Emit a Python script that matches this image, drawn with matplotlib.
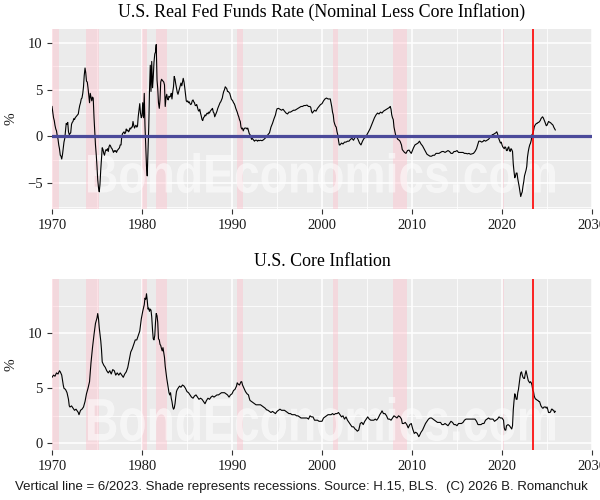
import numpy as np
import matplotlib
matplotlib.use("Agg")
import matplotlib.pyplot as plt
from matplotlib.ticker import MultipleLocator
from matplotlib.textpath import TextPath
from matplotlib.patches import PathPatch
from matplotlib.font_manager import FontProperties
from matplotlib.transforms import Affine2D

# ---------------- data ----------------
real_dates = [
1970.00,1970.08,1970.17,1970.25,1970.33,1970.42,1970.50,1970.58,1970.67,1970.75,1970.83,1970.92,
1971.00,1971.08,1971.17,1971.25,1971.33,1971.42,1971.50,1971.58,1971.67,1971.75,1971.83,1971.92,
1972.00,1972.08,1972.17,1972.25,1972.33,1972.42,1972.50,1972.58,1972.67,1972.75,1972.83,1972.92,
1973.00,1973.08,1973.17,1973.25,1973.33,1973.42,1973.50,1973.58,1973.67,1973.75,1973.83,1973.92,
1974.00,1974.08,1974.17,1974.25,1974.33,1974.42,1974.50,1974.58,1974.67,1974.75,1974.83,1974.92,
1975.00,1975.08,1975.17,1975.25,1975.33,1975.42,1975.50,1975.58,1975.67,1975.75,1975.83,1975.92,
1976.00,1976.08,1976.17,1976.25,1976.33,1976.42,1976.50,1976.58,1976.67,1976.75,1976.83,1976.92,
1977.00,1977.08,1977.17,1977.25,1977.33,1977.42,1977.50,1977.58,1977.67,1977.75,1977.83,1977.92,
1978.00,1978.08,1978.17,1978.25,1978.33,1978.42,1978.50,1978.58,1978.67,1978.75,1978.83,1978.92,
1979.00,1979.08,1979.17,1979.25,1979.33,1979.42,1979.50,1979.58,1979.67,1979.75,1979.83,1979.92,
1980.00,1980.08,1980.17,1980.25,1980.33,1980.42,1980.50,1980.58,1980.67,1980.75,1980.83,1980.92,
1981.00,1981.08,1981.17,1981.25,1981.33,1981.42,1981.50,1981.58,1981.67,1981.75,1981.83,1981.92,
1982.00,1982.08,1982.17,1982.25,1982.33,1982.42,1982.50,1982.58,1982.67,1982.75,1982.83,1982.92,
1983.00,1983.08,1983.17,1983.25,1983.33,1983.42,1983.50,1983.58,1983.67,1983.75,1983.83,1983.92,
1984.00,1984.08,1984.17,1984.25,1984.33,1984.42,1984.50,1984.58,1984.67,1984.75,1984.83,1984.92,
1985.00,1985.08,1985.17,1985.25,1985.33,1985.42,1985.50,1985.58,1985.67,1985.75,1985.83,1985.92,
1986.00,1986.08,1986.17,1986.25,1986.33,1986.42,1986.50,1986.58,1986.67,1986.75,1986.83,1986.92,
1987.00,1987.08,1987.17,1987.25,1987.33,1987.42,1987.50,1987.58,1987.67,1987.75,1987.83,1987.92,
1988.00,1988.08,1988.17,1988.25,1988.33,1988.42,1988.50,1988.58,1988.67,1988.75,1988.83,1988.92,
1989.00,1989.08,1989.17,1989.25,1989.33,1989.42,1989.50,1989.58,1989.67,1989.75,1989.83,1989.92,
1990.00,1990.08,1990.17,1990.25,1990.33,1990.42,1990.50,1990.58,1990.67,1990.75,1990.83,1990.92,
1991.00,1991.08,1991.17,1991.25,1991.33,1991.42,1991.50,1991.58,1991.67,1991.75,1991.83,1991.92,
1992.00,1992.08,1992.17,1992.25,1992.33,1992.42,1992.50,1992.58,1992.67,1992.75,1992.83,1992.92,
1993.00,1993.17,1993.33,1993.50,1993.67,1993.83,1993.92,
1994.00,1994.17,1994.33,1994.50,1994.67,1994.83,1994.92,
1995.00,1995.17,1995.33,1995.50,1995.67,1995.83,
1996.00,1996.17,1996.33,1996.50,1996.67,1996.83,
1997.00,1997.17,1997.33,1997.50,1997.67,1997.83,
1998.00,1998.17,1998.33,1998.50,1998.67,1998.75,1998.83,1998.92,
1999.00,1999.17,1999.33,1999.50,1999.67,1999.83,
2000.00,2000.17,2000.33,2000.50,2000.67,2000.83,2000.92,
2001.00,2001.08,2001.17,2001.25,2001.33,2001.42,2001.50,2001.58,2001.67,2001.75,2001.83,2001.92,
2002.00,2002.17,2002.33,2002.50,2002.67,2002.83,
2003.00,2003.17,2003.33,2003.50,2003.67,2003.83,
2004.00,2004.17,2004.33,2004.50,2004.67,2004.83,
2005.00,2005.17,2005.33,2005.50,2005.67,2005.83,
2006.00,2006.17,2006.33,2006.50,2006.67,2006.83,
2007.00,2007.17,2007.33,2007.50,2007.58,2007.67,2007.75,2007.83,2007.92,
2008.00,2008.08,2008.17,2008.25,2008.42,2008.58,2008.67,2008.83,2008.92,
2009.00,2009.17,2009.33,2009.50,2009.67,2009.83,2009.92,
2010.00,2010.17,2010.33,2010.50,2010.67,2010.83,
2011.00,2011.17,2011.33,2011.50,2011.67,2011.83,
2012.00,2012.17,2012.33,2012.50,2012.67,2012.83,
2013.00,2013.17,2013.33,2013.50,2013.67,2013.83,
2014.00,2014.17,2014.33,2014.50,2014.67,2014.83,
2015.00,2015.17,2015.33,2015.50,2015.67,2015.83,
2016.00,2016.17,2016.33,2016.50,2016.67,2016.83,
2017.00,2017.17,2017.33,2017.42,2017.58,2017.75,2017.92,
2018.00,2018.17,2018.33,2018.50,2018.67,2018.83,2018.92,
2019.00,2019.17,2019.33,2019.42,2019.50,2019.58,2019.67,2019.75,2019.83,2019.92,
2020.00,2020.08,2020.17,2020.25,2020.33,2020.42,2020.50,2020.58,2020.67,2020.75,2020.83,2020.92,
2021.00,2021.08,2021.17,2021.25,2021.33,2021.42,2021.50,2021.58,2021.67,2021.75,2021.83,2021.92,
2022.00,2022.08,2022.17,2022.25,2022.33,2022.42,2022.50,2022.58,2022.67,2022.75,2022.83,2022.92,
2023.00,2023.08,2023.17,2023.25,2023.33,2023.42,2023.50,2023.58,2023.67,2023.75,2023.83,2023.92,
2024.00,2024.08,2024.17,2024.25,2024.33,2024.42,2024.50,2024.58,2024.67,2024.75,2024.83,2024.92,
2025.00,2025.08,2025.17,2025.25,2025.33,2025.42,2025.50,2025.58,2025.67,2025.75,2025.83,2025.92]

real_values = [
3.2,2.6,2.0,1.7,1.2,0.8,0.6,0.1,-0.3,-0.9,-1.3,-2.0,
-2.1,-2.4,-1.9,-1.2,-0.6,-0.2,0.6,1.4,1.3,1.5,0.5,0.2,
0.3,0.4,1.3,1.5,1.6,1.9,1.8,2.0,2.1,2.2,2.3,2.4,
2.9,3.3,3.6,4.0,4.1,4.6,5.3,6.5,7.3,6.8,5.9,5.8,
5.2,4.4,3.6,4.6,4.2,3.8,4.2,4.1,2.0,0.6,-0.9,-2.0,
-3.2,-4.6,-5.5,-5.9,-5.1,-3.5,-2.4,-1.2,-1.4,-1.8,-2.0,-1.6,
-1.4,-1.5,-1.3,-1.6,-1.1,-0.9,-1.0,-1.2,-1.3,-1.5,-1.7,-1.5,
-1.6,-1.5,-1.7,-1.5,-1.4,-1.3,-1.2,-0.9,-0.9,0.0,0.3,0.4,
0.5,0.3,0.4,0.8,0.6,0.7,0.5,0.6,0.9,0.8,1.0,1.0,
1.6,1.2,0.9,1.1,1.2,1.0,1.1,2.1,2.8,3.5,2.5,2.0,
2.2,3.6,2.0,4.6,1.2,-1.0,-3.2,-4.2,-1.5,1.0,4.8,7.6,
4.8,8.0,5.2,6.3,7.9,8.8,9.0,9.8,6.0,5.1,3.6,3.0,
3.9,5.8,6.1,6.0,5.9,5.8,5.5,3.2,4.2,4.5,4.0,3.9,
4.3,4.2,4.3,4.6,4.0,4.8,5.3,6.4,6.1,5.6,5.2,4.7,
4.5,4.8,5.1,5.4,5.7,5.4,5.8,6.2,5.8,5.2,4.5,3.8,
3.7,3.8,3.6,3.7,3.5,3.4,3.5,3.8,3.9,3.7,3.6,3.3,
3.3,3.4,3.1,2.8,2.7,2.9,2.5,2.2,1.8,1.7,2.0,2.1,
2.3,2.2,2.4,2.5,2.4,2.6,2.5,2.7,2.8,2.9,3.0,2.6,
2.5,2.1,2.3,2.5,2.7,3.0,3.2,3.4,3.6,3.7,3.9,4.1,
4.5,4.8,5.0,5.3,5.2,5.1,4.8,4.8,4.7,4.6,4.3,4.0,
3.9,3.8,3.6,3.5,3.3,3.0,2.8,2.6,2.3,2.1,1.8,1.6,
1.0,0.8,0.9,0.6,0.8,0.9,0.9,0.9,0.8,0.9,0.6,0.3,
0.2,0.0,-0.3,-0.2,-0.3,-0.4,-0.5,-0.4,-0.4,-0.4,-0.5,-0.4,
-0.45,-0.4,-0.45,-0.35,-0.2,0.0,0.1,
0.2,0.4,1.0,1.4,1.9,2.3,2.7,
2.95,3.0,2.9,2.8,2.9,2.7,
2.5,2.4,2.6,2.6,2.7,2.8,
2.8,2.9,3.0,3.1,3.2,3.2,
3.3,3.3,3.35,3.2,3.2,3.1,2.7,2.5,
2.6,2.8,2.7,3.0,3.2,3.4,
3.5,3.8,4.0,4.1,4.0,4.0,4.0,
3.6,3.2,2.6,2.3,1.6,1.3,1.1,1.0,0.5,0.2,-0.4,-0.9,
-0.9,-0.7,-0.8,-0.6,-0.6,-0.5,
-0.5,-0.3,-0.2,-0.4,-0.1,0.0,
-0.3,-0.7,-0.9,-0.5,-0.2,-0.1,
0.2,0.5,0.8,1.2,1.6,2.0,
2.3,2.5,2.4,2.6,2.5,2.7,
2.8,2.9,3.0,3.1,3.2,2.9,2.3,2.0,1.8,
1.0,0.6,0.2,0.0,-0.3,-0.4,-0.5,-0.9,-1.4,
-1.5,-1.7,-1.8,-1.5,-1.45,-1.7,-1.8,
-1.6,-1.2,-0.9,-0.8,-0.7,-0.5,
-0.8,-1.0,-1.3,-1.6,-1.9,-2.0,
-2.1,-2.1,-2.0,-2.0,-1.8,-1.8,
-1.8,-1.7,-1.6,-1.6,-1.7,-1.6,
-1.5,-1.6,-1.8,-1.8,-1.6,-1.6,
-1.5,-1.7,-1.7,-1.7,-1.7,-1.8,
-1.8,-1.85,-1.8,-1.9,-1.85,-1.8,
-1.6,-1.3,-0.8,-0.5,-0.5,-0.6,-0.5,
-0.4,-0.5,-0.4,-0.3,-0.1,0.0,0.2,
0.2,0.3,0.4,0.5,0.3,0.0,-0.3,-0.5,-0.7,-0.6,
-0.9,-1.1,-1.2,-1.3,-1.1,-1.2,-1.5,-1.5,-1.2,-1.1,-1.5,-1.6,
-1.3,-1.4,-1.6,-2.9,-3.7,-4.4,-4.2,-3.9,-3.9,-4.5,-4.9,-5.4,
-5.9,-6.4,-6.1,-5.9,-5.3,-4.8,-4.2,-3.9,-3.6,-3.2,-2.2,-1.6,
-1.2,-0.9,-0.7,-0.4,0.2,0.3,0.6,1.0,1.2,1.3,1.4,1.4,
1.5,1.5,1.6,1.7,1.9,2.0,2.1,2.0,1.8,1.6,1.4,1.15,
1.2,1.4,1.6,1.55,1.5,1.45,1.35,1.3,1.2,1.0,0.85,0.7]

core_dates = [
1970.00,1970.17,1970.33,1970.50,1970.67,1970.83,1970.92,
1971.08,1971.25,1971.33,1971.50,1971.67,1971.83,1971.92,
1972.00,1972.17,1972.33,1972.50,1972.67,1972.83,1972.92,
1973.00,1973.17,1973.33,1973.50,1973.67,1973.83,
1974.00,1974.17,1974.33,1974.50,1974.67,1974.83,
1975.00,1975.08,1975.17,1975.25,1975.42,1975.50,1975.58,1975.75,1975.92,
1976.08,1976.25,1976.42,1976.58,1976.75,1976.92,
1977.08,1977.25,1977.42,1977.58,1977.75,1977.92,
1978.08,1978.25,1978.42,1978.58,1978.75,1978.92,
1979.08,1979.25,1979.42,1979.58,1979.75,1979.92,
1980.08,1980.25,1980.33,1980.42,1980.50,1980.58,1980.67,1980.75,1980.83,1980.92,
1981.00,1981.08,1981.17,1981.25,1981.33,1981.42,1981.50,1981.58,1981.67,1981.75,1981.83,1981.92,
1982.00,1982.08,1982.17,1982.25,1982.33,1982.42,1982.50,1982.58,1982.67,1982.75,1982.83,1982.92,
1983.00,1983.08,1983.17,1983.25,1983.33,1983.42,1983.50,1983.58,1983.67,1983.75,1983.83,1983.92,
1984.00,1984.17,1984.33,1984.50,1984.67,1984.83,
1985.00,1985.17,1985.33,1985.50,1985.67,1985.83,
1986.00,1986.17,1986.33,1986.50,1986.67,1986.83,
1987.00,1987.17,1987.33,1987.50,1987.67,1987.83,
1988.00,1988.17,1988.33,1988.50,1988.67,1988.83,
1989.00,1989.17,1989.33,1989.50,1989.67,1989.83,
1990.00,1990.17,1990.33,1990.50,1990.58,1990.67,1990.83,
1991.00,1991.08,1991.17,1991.33,1991.50,1991.67,1991.83,1991.92,
1992.00,1992.17,1992.33,1992.50,1992.67,1992.83,
1993.00,1993.17,1993.33,1993.50,1993.67,1993.83,
1994.00,1994.17,1994.33,1994.50,1994.67,1994.83,
1995.00,1995.17,1995.33,1995.50,1995.67,1995.83,
1996.00,1996.17,1996.33,1996.50,1996.67,1996.83,
1997.00,1997.17,1997.33,1997.50,1997.67,1997.83,
1998.00,1998.17,1998.33,1998.50,1998.67,1998.83,
1999.00,1999.17,1999.33,1999.50,1999.67,1999.83,
2000.00,2000.17,2000.33,2000.50,2000.67,2000.83,
2001.00,2001.17,2001.33,2001.50,2001.67,2001.83,
2002.00,2002.17,2002.33,2002.50,2002.67,2002.83,
2003.00,2003.17,2003.33,2003.50,2003.67,2003.83,2003.92,
2004.08,2004.25,2004.42,2004.58,2004.75,2004.92,
2005.08,2005.25,2005.42,2005.58,2005.75,2005.92,
2006.08,2006.25,2006.42,2006.58,2006.67,2006.83,
2007.00,2007.17,2007.33,2007.50,2007.67,2007.83,
2008.00,2008.17,2008.33,2008.50,2008.67,2008.83,2008.92,
2009.08,2009.25,2009.42,2009.58,2009.75,2009.92,
2010.08,2010.25,2010.42,2010.58,2010.75,2010.83,
2011.00,2011.17,2011.33,2011.50,2011.67,2011.83,
2012.00,2012.17,2012.33,2012.50,2012.67,2012.83,
2013.00,2013.17,2013.33,2013.50,2013.67,2013.83,
2014.00,2014.17,2014.33,2014.50,2014.67,2014.83,
2015.00,2015.17,2015.33,2015.50,2015.67,2015.83,
2016.00,2016.17,2016.33,2016.50,2016.67,2016.83,
2017.00,2017.17,2017.33,2017.50,2017.67,2017.83,
2018.00,2018.17,2018.33,2018.50,2018.67,2018.83,
2019.00,2019.17,2019.33,2019.50,2019.67,2019.83,
2020.00,2020.17,2020.25,2020.33,2020.42,2020.50,2020.67,2020.83,
2021.00,2021.08,2021.17,2021.25,2021.33,2021.42,2021.50,2021.58,2021.67,2021.75,2021.83,2021.92,
2022.00,2022.08,2022.17,2022.25,2022.33,2022.42,2022.50,2022.58,2022.67,2022.75,2022.83,2022.92,
2023.00,2023.08,2023.17,2023.25,2023.33,2023.42,2023.50,2023.58,2023.67,2023.75,2023.83,2023.92,
2024.00,2024.08,2024.17,2024.25,2024.33,2024.42,2024.50,2024.58,2024.67,2024.75,2024.83,2024.92,
2025.00,2025.08,2025.17,2025.25,2025.33,2025.42,2025.50,2025.58,2025.67,2025.75,2025.83,2025.92]

core_values = [
6.0,6.2,6.1,6.4,6.3,6.6,6.5,
6.2,5.3,5.0,4.9,4.6,4.0,3.4,
3.3,3.4,3.2,3.0,3.1,2.9,2.8,
2.6,3.0,3.1,3.3,3.8,4.5,
5.0,5.6,7.3,8.7,9.9,10.9,
11.4,11.8,11.3,10.5,9.3,8.5,7.4,7.1,6.9,
6.6,6.4,6.6,6.3,6.7,6.6,
6.2,6.4,6.2,6.4,6.2,6.0,
6.3,6.5,6.9,7.6,8.3,8.6,
9.0,9.4,9.4,9.8,10.2,11.3,
12.0,12.6,13.2,13.1,13.6,13.0,12.2,12.3,12.0,12.2,
12.1,11.5,10.3,9.5,9.4,9.8,11.0,11.8,11.6,11.0,9.5,9.4,
9.0,8.9,8.6,8.4,8.7,8.2,7.8,7.0,6.4,5.9,5.5,5.1,
4.6,4.4,4.6,4.1,3.8,3.3,3.1,3.2,3.6,4.2,4.7,4.9,
5.0,5.2,5.1,5.3,5.2,5.0,
4.7,4.6,4.4,4.2,4.1,4.3,
4.4,4.2,4.0,4.1,4.0,3.8,
3.6,3.9,4.1,4.0,4.2,4.3,
4.2,4.3,4.4,4.4,4.5,4.6,
4.6,4.6,4.5,4.4,4.2,4.4,
4.5,4.8,4.9,5.2,5.5,5.4,5.3,
5.6,5.6,5.3,5.0,4.7,4.5,4.4,4.1,
3.9,3.8,3.7,3.6,3.5,3.5,
3.5,3.5,3.4,3.3,3.2,3.05,
3.0,2.9,2.8,2.9,2.8,2.7,
2.9,3.0,3.1,3.0,3.0,3.0,
2.9,2.8,2.7,2.7,2.6,2.6,
2.6,2.5,2.5,2.4,2.3,2.3,
2.3,2.3,2.3,2.2,2.5,2.4,
2.4,2.1,2.1,2.1,2.0,2.0,
2.0,2.3,2.4,2.5,2.6,2.6,
2.6,2.7,2.6,2.7,2.7,2.8,
2.6,2.4,2.5,2.2,2.4,2.1,
1.9,1.7,1.5,1.5,1.3,1.2,1.1,
1.2,1.8,1.9,1.7,2.0,2.2,
2.4,2.2,2.1,2.1,2.1,2.2,
2.1,2.3,2.6,2.8,2.95,2.7,
2.7,2.5,2.2,2.2,2.1,2.3,
2.5,2.4,2.3,2.5,2.4,2.2,1.8,
1.8,1.9,1.7,1.4,1.7,1.8,
1.3,0.9,1.0,0.9,0.6,0.7,
1.0,1.2,1.5,1.8,2.0,2.2,
2.3,2.3,2.2,2.1,2.0,1.9,
1.9,1.9,1.7,1.7,1.8,1.7,
1.6,1.8,2.0,1.9,1.7,1.7,
1.6,1.8,1.8,1.8,1.9,2.1,
2.2,2.2,2.2,2.2,2.2,2.2,
2.2,2.0,1.7,1.7,1.7,1.8,
1.8,2.1,2.2,2.3,2.2,2.2,
2.2,2.0,2.1,2.2,2.4,2.3,
2.3,2.1,1.4,1.2,1.2,1.6,1.7,1.6,
1.4,1.3,1.6,3.0,3.8,4.5,4.3,4.0,4.0,4.6,4.9,5.5,
6.0,6.4,6.5,6.2,6.0,5.9,5.9,6.3,6.6,6.3,6.0,5.7,
5.6,5.5,5.6,5.5,5.3,4.8,4.7,4.3,4.1,4.0,4.0,3.9,
3.9,3.8,3.8,3.6,3.4,3.3,3.2,3.2,3.3,3.3,3.3,3.2,
3.3,3.1,2.8,2.8,2.8,2.9,3.1,3.1,3.0,3.0,2.8,2.9]

recession_starts = [1969.92, 1973.83, 1980.00, 1981.50, 1990.50, 2001.17, 2007.92, 2020.08]
recession_ends   = [1970.83, 1975.17, 1980.50, 1982.83, 1991.17, 2001.83, 2009.42, 2020.25]
marker_date = 2023.42

top_title = "U.S. Real Fed Funds Rate (Nominal Less Core Inflation)"
bottom_title = "U.S. Core Inflation"
x_ticks = [1970, 1980, 1990, 2000, 2010, 2020, 2030]
top_yticks = [-5, 0, 5, 10]
bottom_yticks = [0, 5, 10]
footer_left = "Vertical line = 6/2023. Shade represents recessions. Source: H.15, BLS."
footer_right = "(C) 2026 B. Romanchuk"
watermark = "BondEconomics.com"

# ---------------- styling ----------------
SERIF = ["Liberation Serif", "DejaVu Serif"]
SANS = ["Liberation Sans", "DejaVu Sans"]
PANEL = "#EBEBEB"
TICKCOL = "#1a1a1a"
W, H = 600, 500

fig = plt.figure(figsize=(6, 5), dpi=100)
ax1 = fig.add_axes([52/W, 1-209/H, 540/W, 180/H])
ax2 = fig.add_axes([52/W, 1-450/H, 540/W, 171/H])


def style(ax, yticks, ylim, title):
    ax.set_facecolor(PANEL)
    for s in ax.spines.values():
        s.set_visible(False)
    ax.set_xlim(1970, 2030)
    ax.set_ylim(*ylim)
    ax.set_xticks(x_ticks)
    ax.set_yticks(yticks)
    ax.xaxis.set_minor_locator(MultipleLocator(5))
    ax.yaxis.set_minor_locator(MultipleLocator(2.5))
    ax.grid(which="major", color="white", linewidth=1.1, zorder=0)
    ax.grid(which="minor", color="white", linewidth=0.55, zorder=0)
    ax.set_axisbelow(True)
    ax.tick_params(which="minor", length=0)
    ax.tick_params(which="major", length=3.6, width=0.8, color="#333333",
                   labelcolor=TICKCOL, labelsize=10.5)
    ax.tick_params(axis="x", pad=3.5)
    ax.tick_params(axis="y", pad=3.0)
    for lab in ax.get_xticklabels() + ax.get_yticklabels():
        lab.set_family(SERIF)
    ax.set_ylabel("%", family=SERIF, fontsize=11, color=TICKCOL)
    ax.yaxis.set_label_coords((17.5 - 52) / 540, 0.5)
    ax.set_title(title, family=SERIF, fontsize=12.9, color="black", pad=9)
    for s0, s1 in zip(recession_starts, recession_ends):
        ax.axvspan(s0, s1, color="#ffc0cb", alpha=0.42, linewidth=0, zorder=1)
    ax.axvline(marker_date, color="red", linewidth=1.2, zorder=5)


style(ax1, top_yticks, (-7.73, 11.46), top_title)
style(ax2, bottom_yticks, (-0.61, 14.94), bottom_title)

ax1.plot(real_dates, real_values, color="black", linewidth=0.8, zorder=4)
ax1.axhline(0, color="#4B4A9A", linewidth=2.3, zorder=6)
ax2.plot(core_dates, core_values, color="black", linewidth=0.8, zorder=4)

# condensed watermark: the text outline squeezed into the reference's box
wm_path = TextPath((0, 0), watermark, size=1,
                   prop=FontProperties(family="Liberation Sans", weight="bold"))
ext = wm_path.get_extents()


def add_watermark(ax, left_px, top_px, bottom_px, right_px):
    sx = (right_px - left_px) / W / ext.width
    sy = (bottom_px - top_px) / H / ext.height
    tr = (Affine2D().translate(-ext.x0, -ext.y0).scale(sx, sy)
          .translate(left_px / W, 1 - bottom_px / H) + fig.transFigure)
    patch = PathPatch(wm_path, facecolor="white", edgecolor="none",
                      alpha=0.55, transform=tr, zorder=2)
    patch.set_clip_box(ax.bbox)
    ax.add_artist(patch)


add_watermark(ax1, 88, 153, 193, 555)
add_watermark(ax2, 88, 397, 441, 555)

fig.text(15/W, 1-487/H, footer_left, family=SANS, fontsize=9.5,
         color=TICKCOL, ha="left", va="center")
fig.text(588/W, 1-487/H, footer_right, family=SANS, fontsize=9.5,
         color=TICKCOL, ha="right", va="center")

fig.savefig("out.png", dpi=100)
